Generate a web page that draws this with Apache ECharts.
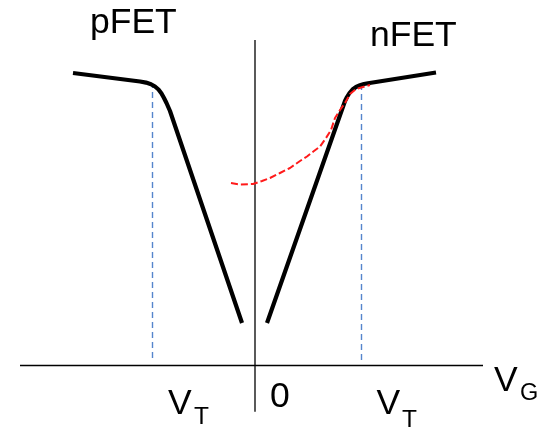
<!DOCTYPE html>
<html>
<head>
<meta charset="utf-8">
<script src="https://cdn.jsdelivr.net/npm/echarts@6/dist/echarts.min.js"></script>
<style>
  html, body { margin: 0; padding: 0; background: #fff; }
  #chart { width: 557px; height: 431px; }
</style>
</head>
<body>
<div id="chart"></div>
<script>
// Transfer characteristics sketch: gate voltage V_G (x) against drain current (y, log-like units).
const pFET = [
  [-1.82, 2.925], [-1.15, 2.84], [-1.09, 2.829], [-1.04, 2.813], [-1.00, 2.79],
  [-0.965, 2.76], [-0.935, 2.72], [-0.91, 2.675], [-0.885, 2.625], [-0.85, 2.545],
  [-0.13, 0.425]
];
const nFET = [
  [0.12, 0.425], [0.90, 2.645], [0.92, 2.685], [0.945, 2.725], [0.975, 2.76],
  [1.01, 2.785], [1.05, 2.802], [1.09, 2.815], [1.13, 2.823], [1.81, 2.93]
];
// hand-drawn red trace near the nFET knee
const redTrace = [
  [-0.24, 1.825], [-0.15, 1.81], [-0.02, 1.815], [0.07, 1.845], [0.15, 1.875],
  [0.25, 1.925], [0.35, 1.975], [0.45, 2.045], [0.52, 2.09], [0.59, 2.145],
  [0.65, 2.19], [0.71, 2.275], [0.76, 2.355], [0.80, 2.475], [0.85, 2.555],
  [0.90, 2.625], [0.95, 2.715], [1.01, 2.765], [1.08, 2.785], [1.15, 2.805]
];
// threshold voltages and the vertical extent of their guide lines
const vtP = -1.025;
const vtN = 1.065;
const vtGuideP = [0.075, 2.795];
const vtGuideN = [0.055, 2.775];
// axis extents
const xAxisSpan = [-2.35, 2.28];
const yAxisSpan = [-0.462, 3.255];
// labels
const labels = { p: 'pFET', n: 'nFET', zero: '0', vg: ['V', 'G'], vt: ['V', 'T'] };

const chart = echarts.init(document.getElementById('chart'), null, { renderer: 'canvas' });

function lineSeries(data, color, width, dash) {
  return {
    type: 'line', data: data, symbol: 'none', smooth: false, silent: true,
    lineStyle: { color: color, width: width, type: dash || 'solid', cap: 'butt', join: 'round' },
    z: 2
  };
}

const font = '"Liberation Sans", Arial, sans-serif';
function txt(x, y, s, size) {
  return {
    type: 'text', x: x, y: y, silent: true,
    style: { text: s, font: size + 'px ' + font, fill: '#000', textVerticalAlign: 'middle', verticalAlign: 'middle' }
  };
}

chart.setOption({
  animation: false,
  backgroundColor: '#fff',
  grid: { left: 0, right: 0, top: 0, bottom: 0, containLabel: false },
  xAxis: { type: 'value', min: -2.55, max: 3.02, show: false },
  yAxis: { type: 'value', min: -0.655, max: 3.655, show: false },
  series: [
    lineSeries([[xAxisSpan[0], 0], [xAxisSpan[1], 0]], '#000', 1.3),
    lineSeries([[0, yAxisSpan[0]], [0, yAxisSpan[1]]], '#000', 1.3),
    lineSeries([[vtP, vtGuideP[0]], [vtP, vtGuideP[1]]], '#5585cc', 1.4, [6, 4]),
    lineSeries([[vtN, vtGuideN[0]], [vtN, vtGuideN[1]]], '#5585cc', 1.4, [6, 4]),
    lineSeries(pFET, '#000', 4.2),
    lineSeries(nFET, '#000', 4.2),
    lineSeries(redTrace, '#ff1a1a', 2, [7, 3])
  ],
  graphic: [
    txt(90, 23.5, labels.p, 35.5),
    txt(370, 36.5, labels.n, 35.5),
    txt(494, 381, labels.vg[0], 35.5),
    txt(520, 394, labels.vg[1], 23.5),
    txt(168, 404.5, labels.vt[0], 35.5),
    txt(194, 417, labels.vt[1], 24.5),
    txt(270, 397.5, labels.zero, 35.5),
    txt(376.5, 404.5, labels.vt[0], 35.5),
    txt(402, 420.5, labels.vt[1], 24.5)
  ]
});
</script>
</body>
</html>
